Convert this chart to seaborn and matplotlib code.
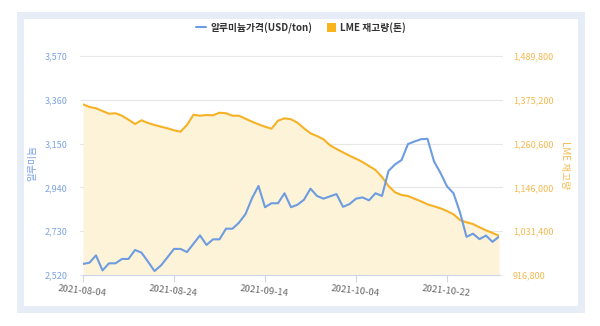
import matplotlib
matplotlib.use("Agg")
import matplotlib.pyplot as plt
import numpy as np
import pandas as pd
import seaborn as sns
from matplotlib.lines import Line2D
from matplotlib.patches import Patch, Rectangle

# LME trading days (UK summer bank holiday excluded)
trade_days = pd.bdate_range("2021-08-04", "2021-11-03", freq="C", holidays=["2021-08-30"])

# Aluminium cash price, USD/ton
price = [2573, 2579, 2614, 2542, 2576, 2576, 2597, 2597, 2640, 2627,
         2584, 2539, 2566, 2605, 2645, 2645, 2630, 2670, 2710, 2664,
         2691, 2691, 2742, 2742, 2771, 2812, 2888, 2947, 2845, 2864,
         2864, 2912, 2845, 2857, 2881, 2934, 2899, 2886, 2897, 2908,
         2847, 2860, 2886, 2892, 2878, 2912, 2899, 3019, 3050, 3071,
         3148, 3160, 3171, 3173, 3065, 3009, 2945, 2912, 2820, 2703,
         2718, 2692, 2709, 2679, 2704]

# LME aluminium stocks, tonnes
stock = [1363400, 1356400, 1353000, 1345900, 1338800, 1339900, 1333600, 1323100, 1311900, 1321600,
         1314500, 1309300, 1304800, 1300600, 1295400, 1291700, 1309300, 1336200, 1333600, 1335400,
         1334600, 1341400, 1339900, 1333600, 1333600, 1325700, 1317900, 1311100, 1304800, 1299600,
         1320500, 1326800, 1324200, 1315300, 1300600, 1287500, 1280500, 1271800, 1256100, 1246500,
         1237800, 1228900, 1221100, 1212500, 1202000, 1191500, 1173200, 1149700, 1133200, 1126100,
         1123500, 1116400, 1109600, 1101800, 1096500, 1091300, 1084200, 1075600, 1060700, 1054700,
         1050200, 1041600, 1033800, 1026700, 1019600]

tick_dates = ["2021-08-04", "2021-08-24", "2021-09-14", "2021-10-04", "2021-10-22"]
price_ticks = [2520, 2730, 2940, 3150, 3360, 3570]
stock_ticks = [916800, 1031400, 1146000, 1260600, 1375200, 1489800]

df = pd.DataFrame({
    "date": trade_days.strftime("%Y-%m-%d"),
    "price": price,
    "stock": stock,
})
df["pos"] = np.arange(len(df))

sns.set_theme(style="white")
plt.rcParams["font.family"] = ["Noto Sans CJK KR", "DejaVu Sans"]

BLUE = "#6d9ce0"
ORANGE = "#f6b226"
FILL = "#fdf3d8"
GRID = "#e6e6e6"
AXIS = "#ccd6eb"

fig = plt.figure(figsize=(6, 3.26), dpi=100)
fig.patch.set_facecolor("white")

# card frame
fig.patches.append(Rectangle((19.5 / 600, 1 - 308.5 / 326), 561 / 600, 294 / 326,
                             transform=fig.transFigure, fill=False,
                             edgecolor="#e6edf7", lw=5.0, zorder=0))

ax = fig.add_axes([83 / 600, 1 - 275 / 326, 416 / 600, 219 / 326])
ax2 = ax.twinx()
ax.set_zorder(ax2.get_zorder() + 1)
ax.patch.set_visible(False)
ax2.patch.set_visible(False)

# stock area (right axis)
for v in stock_ticks:
    ax2.axhline(v, xmin=-0.008, xmax=1.008, color=GRID, lw=0.8, zorder=0, clip_on=False)
ax2.fill_between(df["pos"], df["stock"], stock_ticks[0], color=FILL, lw=0, zorder=1)
sns.lineplot(data=df, x="pos", y="stock", ax=ax2, color=ORANGE, lw=1.5, zorder=2)
ax2.set_ylim(stock_ticks[0], stock_ticks[-1])
ax2.set_yticks(stock_ticks)
ax2.set_yticklabels([f"{v:,}" for v in stock_ticks])
ax2.tick_params(axis="y", length=0, pad=10, labelsize=6.5, labelcolor="#f5b94f")
ax2.set_ylabel("LME 재고량", color="#f5b94f", fontsize=7, rotation=270, labelpad=0)
ax2.yaxis.set_label_coords(1.17, 0.5)

# price line (left axis)
sns.lineplot(data=df, x="pos", y="price", ax=ax, color=BLUE, lw=1.5, zorder=3)
ax.set_ylim(price_ticks[0], price_ticks[-1])
ax.set_yticks(price_ticks)
ax.set_yticklabels([f"{v:,}" for v in price_ticks])
ax.tick_params(axis="y", length=0, pad=11, labelsize=6.5, labelcolor="#7ba2e2")
ax.set_ylabel("알루미늄", color="#7ba2e2", fontsize=7)
ax.yaxis.set_label_coords(-0.11, 0.51)

ax.set_xlim(0, len(df) - 1)
ax2.set_xlim(0, len(df) - 1)
tick_pos = [int(df.index[df["date"] == d][0]) for d in tick_dates]
ax.set_xticks(tick_pos)
ax.set_xticklabels(tick_dates, rotation=-6, ha="center", rotation_mode="anchor")
ax.tick_params(axis="x", bottom=True, length=5, width=0.8, color=AXIS,
               labelsize=6.8, labelcolor="#666666", pad=3)
ax.set_xlabel("")
ax2.set_xlabel("")

for s in ["top", "left", "right"]:
    ax.spines[s].set_visible(False)
for s in ax2.spines.values():
    s.set_visible(False)
ax.spines["bottom"].set_color(AXIS)
ax.spines["bottom"].set_linewidth(0.8)

handles = [Line2D([0], [0], color=BLUE, lw=1.5),
           Patch(facecolor="#f9b31b", edgecolor="none")]
labels = ["알루미늄가격(USD/ton)", "LME 재고량(톤)"]
fig.legend(handles, labels, loc="center", bbox_to_anchor=(0.502, 1 - 28 / 326),
           ncol=2, frameon=False, prop={"size": 7, "weight": "bold"},
           labelcolor="#333333", handlelength=1.0, handleheight=1.0,
           handletextpad=0.4, columnspacing=1.5)

fig.savefig("out.png", dpi=100)
